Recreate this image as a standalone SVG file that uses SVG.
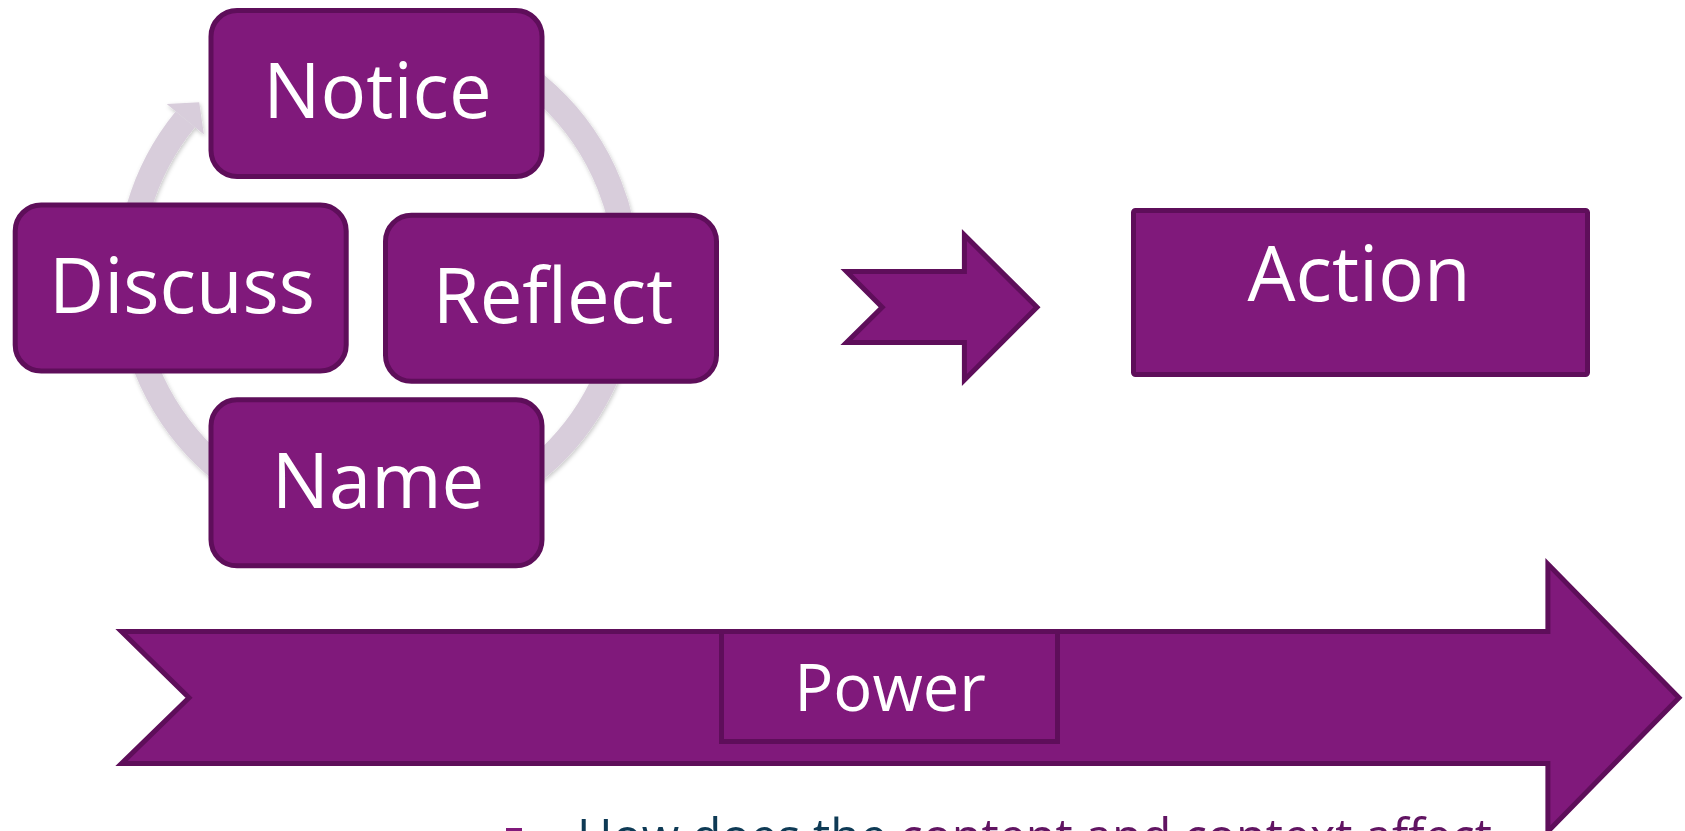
<svg xmlns="http://www.w3.org/2000/svg" width="1685" height="831" viewBox="0 0 1685 831">
  <style>
    .box { fill: #80197b; stroke: #5e0e5a; stroke-width: 5; }
    .lbl { font-family: "Open Sans", "Liberation Sans", sans-serif; fill: #ffffff; text-anchor: middle; }
    .big { font-size: 76px; }
    .ring { fill: none; stroke: #d8cddb; stroke-width: 25; }
  </style>
  <defs>
    <filter id="sh" x="-10%" y="-10%" width="120%" height="120%">
      <feDropShadow dx="1" dy="2" stdDeviation="2" flood-color="#000" flood-opacity="0.22"/>
    </filter>
  </defs>
  <rect width="1685" height="831" fill="#ffffff"/>

  <g id="connectors">
    <g id="cycle-arrow" filter="url(#sh)">
      <path class="ring" d="M 463.2 43 A 249 249 0 1 1 185.3 119.3"/>
      <polygon points="199.2,102.3 166.7,104.1 203.9,134.5" fill="#d8cddb"/>
    </g>
    <path id="chevron" class="box" d="M846.5,271.5 L964.4,271.5 L964.4,235 L1037,307.3 L964.4,380 L964.4,342.5 L846.5,342.5 L882.2,307.3 Z"/>
    <path id="power-arrow" class="box" d="M121.5,631.5 L1547.9,631.5 L1547.9,564 L1679,697.7 L1547.9,831.5 L1547.9,763.5 L121.5,763.5 L189,697.7 Z"/>
  </g>

  <g id="notice">
    <rect class="box" x="211" y="10.5" width="331" height="166" rx="26"/>
    <text class="lbl big" x="377.5" y="117.5">Notice</text>
  </g>
  <g id="discuss">
    <rect class="box" x="15.2" y="205" width="331" height="166" rx="26"/>
    <text class="lbl big" x="182" y="313">Discuss</text>
  </g>
  <g id="reflect">
    <rect class="box" x="385.5" y="215.3" width="331" height="166" rx="26"/>
    <text class="lbl big" x="553" y="323">Reflect</text>
  </g>
  <g id="name">
    <rect class="box" x="211" y="399.8" width="331" height="166" rx="26"/>
    <text class="lbl big" x="378" y="507.5">Name</text>
  </g>
  <g id="action">
    <rect class="box" x="1133.5" y="210.5" width="454" height="164" rx="2"/>
    <text class="lbl big" x="1359" y="301">Action</text>
  </g>
  <g id="power">
    <rect class="box" x="721.5" y="631.5" width="336" height="110"/>
    <text class="lbl" x="890" y="711" font-size="65">Power</text>
  </g>

  <g id="bullet-text">
    <rect x="506" y="828" width="16" height="16" fill="#80197b"/>
    <text x="577" y="854" font-family="Open Sans, Liberation Sans, sans-serif" font-size="50" textLength="915" lengthAdjust="spacingAndGlyphs"><tspan fill="#0e3a55">How does the </tspan><tspan fill="#611462">content and context affect</tspan></text>
  </g>
</svg>
